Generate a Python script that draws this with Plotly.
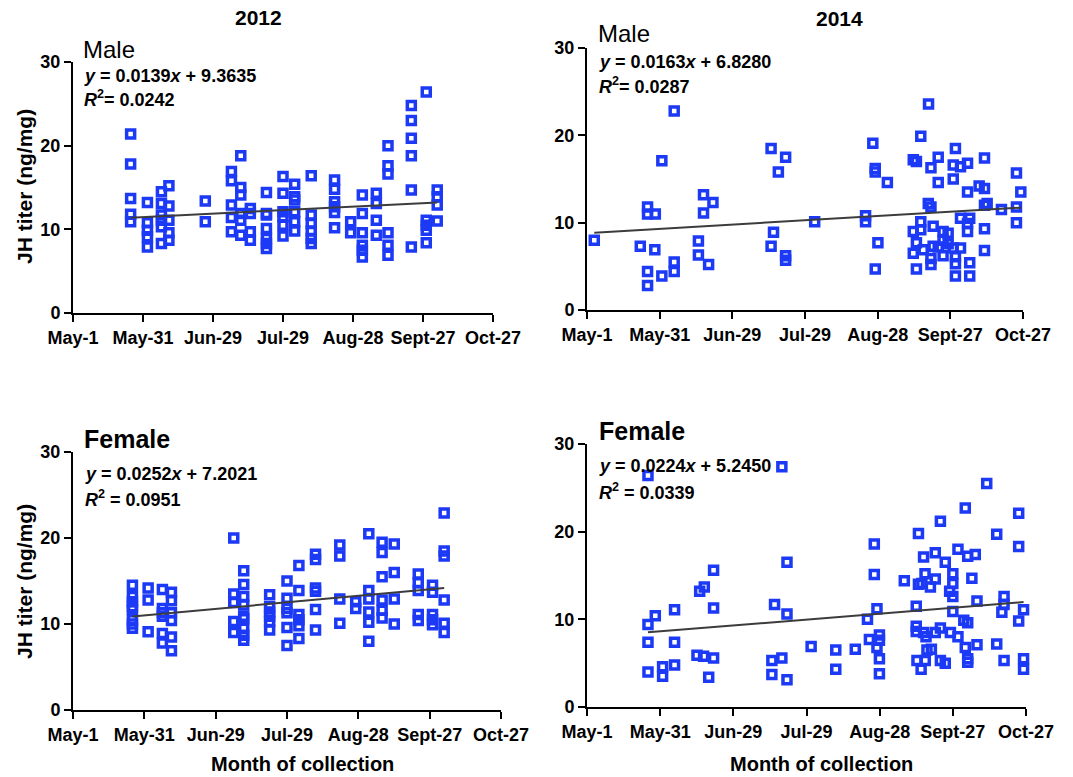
import plotly.graph_objects as go

# ---------------- data (x = day of year, y = JH titer ng/mg) ----------------
m12_x = [145.7]*5 + [152.9]*5 + [158.9]*6 + [162.1]*5 + [177.7]*2 + [188.9]*5 + [192.9]*6 + [197.0]*4 \
    + [203.9]*7 + [211.0]*6 + [216.0]*6 + [223.1]*6 + [233.1]*6 + [240.0]*2 + [245.0]*6 + [251.0]*4 \
    + [256.0]*6 + [266.0]*6 + [272.4]*5 + [277.1]*4
m12_y = [21.4, 17.8, 13.7, 11.8, 10.9,
         13.2, 10.8, 9.9, 9.1, 7.9,
         14.5, 13.1, 11.7, 11.1, 10.3, 8.3,
         15.2, 12.8, 11.1, 9.6, 8.7,
         13.4, 10.9,
         16.9, 15.8, 12.9, 11.4, 9.7,
         18.8, 15.0, 14.1, 11.9, 11.1, 9.3,
         12.5, 11.9, 9.7, 8.7,
         14.4, 11.9, 11.7, 10.1, 8.9, 8.3, 7.7,
         16.3, 14.3, 12.1, 11.5, 10.5, 9.2,
         15.4, 13.9, 13.5, 12.1, 10.9, 9.8,
         16.4, 11.7, 10.7, 9.8, 8.9, 8.3,
         15.9, 14.8, 13.3, 12.7, 12.0, 10.2,
         10.9, 9.6,
         14.1, 11.9, 9.6, 8.1, 7.5, 6.7,
         14.3, 13.1, 11.1, 9.3,
         20.0, 17.6, 16.6, 9.6, 8.1, 6.9,
         24.8, 23.0, 20.9, 18.8, 14.7, 7.9,
         26.4, 11.1, 10.5, 9.9, 8.4,
         14.7, 13.9, 12.9, 11.0]

m14_x = [124.0, 143.0, 146.0, 146.0, 149.2, 149.0, 146.0, 146.0, 151.9, 151.9, 157.0, 157.0, 157.0,
         169.1, 173.0, 169.1, 167.0, 167.0, 171.2,
         197.0, 203.0, 200.0, 198.0, 197.0, 203.0, 203.0, 215.0,
         236.0, 236.0, 239.0, 240.0, 240.0, 245.0, 241.1, 240.0,
         262.0, 258.8, 255.7, 257.0, 263.0, 266.0, 273.1, 272.2, 275.2, 278.1, 285.1,
         266.0, 272.2, 278.1, 282.9, 285.1, 261.9, 263.0, 285.1, 286.2, 292.1,
         298.3, 300.1, 298.3, 298.3, 275.2, 279.0, 278.1, 278.1, 285.1, 285.1,
         258.8, 258.8, 263.9, 255.7, 268.0, 270.1, 257.0, 268.0, 270.1,
         255.7, 259.8, 263.9, 266.0, 272.2, 275.2, 263.0, 263.0, 268.0, 273.1, 273.1,
         279.0, 257.0, 273.1, 279.0]
m14_y = [8.0, 7.3, 11.8, 11.0, 11.0, 6.9, 4.4, 2.8, 17.1, 3.9, 22.8, 5.5, 4.4,
         13.2, 12.3, 11.1, 7.9, 6.3, 5.2,
         18.5, 17.5, 15.8, 8.9, 7.3, 6.2, 5.7, 10.1,
         10.8, 10.1, 19.1, 16.2, 15.8, 14.6, 7.7, 4.7,
         23.6, 19.9, 17.2, 17.0, 16.3, 17.5, 18.5, 16.6, 16.4, 16.8, 17.4,
         14.6, 15.0, 13.5, 14.2, 13.9, 12.2, 11.8, 12.0, 12.2, 11.5,
         15.7, 13.5, 11.8, 10.0, 10.5, 10.5, 9.9, 9.0, 9.3, 6.8,
         10.1, 9.2, 9.6, 9.0, 9.0, 8.8, 7.7, 8.0, 7.6,
         6.5, 6.9, 7.3, 7.2, 7.1, 7.1, 5.9, 5.2, 6.2, 6.1, 5.3,
         5.4, 4.7, 3.9, 3.9]

f12_x = [146.0]*8 + [152.6]*3 + [158.6]*6 + [162.4]*6 + [188.6]*5 + [192.8]*9 + [203.7]*6 + [211.0]*6 \
    + [216.0]*6 + [223.0]*6 + [233.2]*4 + [239.9]*2 + [245.4]*6 + [251.0]*6 + [256.1]*4 + [266.2]*5 \
    + [272.2]*5 + [277.1]*6
f12_y = [14.5, 13.2, 12.6, 12.0, 11.7, 10.5, 10.0, 9.5,
         14.2, 12.8, 9.1,
         14.0, 11.8, 11.3, 10.9, 8.9, 7.8,
         13.7, 12.7, 11.3, 10.4, 8.5, 6.9,
         20.0, 13.5, 12.5, 10.3, 9.0,
         16.2, 14.6, 13.2, 12.2, 10.9, 10.6, 9.5, 8.7, 8.1,
         13.4, 12.0, 11.4, 10.9, 10.3, 9.3,
         15.0, 13.0, 11.8, 11.3, 9.6, 7.5,
         16.8, 13.9, 11.1, 10.5, 9.8, 8.3,
         18.1, 17.5, 14.2, 13.8, 11.7, 9.3,
         19.2, 17.9, 12.9, 10.1,
         12.6, 11.8,
         20.5, 13.9, 12.9, 11.4, 10.2, 8.0,
         19.5, 18.3, 15.5, 12.8, 11.6, 10.7,
         19.3, 16.0, 12.9, 10.0,
         15.8, 14.8, 13.9, 11.1, 10.4,
         14.5, 13.7, 11.1, 10.5, 9.9,
         22.9, 18.5, 17.9, 12.8, 10.1, 9.0]

f14_x = [146.0, 200.9, 146.0, 149.0, 146.0, 146.0, 152.0, 152.0, 156.9, 156.9, 156.9,
         167.2, 169.1, 172.9, 172.9, 166.1, 168.8, 172.9, 170.9,
         197.9, 203.0, 203.0, 196.8, 200.9, 196.8, 203.0, 212.9, 223.0, 223.0, 231.0,
         238.8, 238.8, 239.9, 236.0, 236.8, 240.9, 240.9, 239.9, 240.9, 240.9,
         256.9, 259.0, 251.1, 256.9, 258.3, 259.6, 261.8, 263.8, 263.8, 265.9, 267.9,
         271.0, 271.0, 269.7, 271.0, 271.0, 273.1, 276.1, 277.1, 280.2, 278.8, 280.9,
         284.9, 289.0, 292.0, 291.1, 292.0, 298.0, 298.0, 298.0, 300.0, 300.0, 300.0,
         256.0, 256.0, 256.0, 259.0, 260.0, 263.8, 265.9, 270.0, 273.1, 275.5, 277.1,
         276.1, 280.9, 289.0, 260.4, 262.2, 256.3, 259.7, 258.0, 265.9, 267.9,
         277.1, 277.1, 292.0]
f14_y = [26.4, 27.4, 9.4, 10.4, 7.4, 4.0, 4.6, 3.5, 11.1, 7.4, 4.8,
         13.2, 13.7, 15.6, 11.3, 5.9, 5.8, 5.6, 3.4,
         11.7, 10.6, 16.5, 5.3, 5.6, 3.7, 3.1, 6.9, 6.5, 4.3, 6.6,
         18.6, 15.1, 11.2, 10.0, 7.7, 8.2, 7.6, 6.8, 5.5, 3.8,
         19.8, 17.1, 14.4, 14.0, 14.1, 15.2, 13.7, 14.6, 17.6, 21.2, 16.5,
         15.2, 14.1, 13.2, 12.6, 10.9, 18.0, 22.7, 17.2, 17.4, 14.7, 12.1,
         25.5, 19.7, 12.6, 10.8, 11.7, 22.1, 18.3, 9.8, 11.1, 5.5, 4.3,
         11.5, 9.2, 8.6, 8.5, 8.0, 8.5, 9.0, 8.5, 8.0, 9.9, 9.6,
         6.8, 7.1, 7.2, 6.5, 6.6, 5.3, 5.3, 4.3, 5.3, 5.0,
         5.5, 5.1, 5.3]

# regression coefficients (slope, intercept) and R² as printed on the chart
fits = {"m12": (0.0139, 9.3635), "m14": (0.0163, 6.8280), "f12": (0.0252, 7.2021), "f14": (0.0224, 5.2450)}
eq_text = {"m12": ("0.0139", "9.3635", "0.0242"), "m14": ("0.0163", "6.8280", "0.0287"),
           "f12": ("0.0252", "7.2021", "0.0951"), "f14": ("0.0224", "5.2450", "0.0339")}

tick_days = [121, 151, 181, 211, 241, 271, 301]
tick_labels = ["May-1", "May-31", "Jun-29", "Jul-29", "Aug-28", "Sept-27", "Oct-27"]
y_ticks = [0, 10, 20, 30]

# ---------------- layout helpers ----------------
W, H = 1073, 777
def fx(px):
    return px / W
def fy(py):
    return 1 - py / H

BLUE = "rgb(28,58,245)"
LINE = "#3c3c3c"
FONT = "Liberation Sans, Arial, sans-serif"

panels = [
    # key, xs, ys, x-domain px, y-domain px (top, bottom), axis suffix
    ("m12", m12_x, m12_y, (73, 493), (62, 313), ""),
    ("m14", m14_x, m14_y, (587, 1023), (48, 310), "2"),
    ("f12", f12_x, f12_y, (73, 501), (452, 710), "3"),
    ("f14", f14_x, f14_y, (587, 1026), (444, 707), "4"),
]

fig = go.Figure()
layout = dict(width=W, height=H, margin=dict(l=0, r=0, t=0, b=0, autoexpand=False),
              paper_bgcolor="white", plot_bgcolor="white", showlegend=False)

for key, xs, ys, (x0, x1), (yt, yb), s in panels:
    xa, ya = "x" + s, "y" + s
    fig.add_trace(go.Scatter(x=xs, y=ys, mode="markers", xaxis=xa, yaxis=ya, cliponaxis=False,
                             marker=dict(symbol="square-open", size=8, color=BLUE,
                                         line=dict(width=3.5, color=BLUE))))
    m, b = fits[key]
    lx = [min(xs), max(xs)]
    fig.add_trace(go.Scatter(x=lx, y=[m * v + b for v in lx], mode="lines", xaxis=xa, yaxis=ya,
                             line=dict(color=LINE, width=2)))
    layout["xaxis" + s] = dict(domain=[fx(x0), fx(x1)], anchor=ya, range=[121, 301], automargin=False,
                               tickvals=tick_days, ticktext=tick_labels,
                               showline=True, linecolor="black", linewidth=2,
                               ticks="outside", ticklen=7, tickwidth=2, tickcolor="black",
                               showgrid=False, zeroline=False,
                               tickfont=dict(family=FONT, size=18, color="black", weight="bold"))
    layout["yaxis" + s] = dict(domain=[fy(yb), fy(yt)], anchor=xa, range=[0, 30], automargin=False,
                               tickvals=y_ticks, showline=True, linecolor="black", linewidth=2,
                               ticks="outside", ticklen=7, tickwidth=2, tickcolor="black",
                               showgrid=False, zeroline=False,
                               tickfont=dict(family=FONT, size=18, color="black", weight="bold"))

fig.update_layout(**layout)

def txt(text, px, py, size, xanchor="left", weight="bold", angle=0):
    fig.add_annotation(text=text, x=fx(px), y=fy(py), xref="paper", yref="paper",
                       xanchor=xanchor, yanchor="middle", showarrow=False, textangle=angle,
                       font=dict(family=FONT, size=size, color="black", weight=weight))

# titles
txt("2012", 258, 18, 21, xanchor="center")
txt("2014", 839, 19, 21, xanchor="center")
# sex labels
txt("Male", 81, 49, 24, weight="normal")
txt("Male", 596, 34, 24, weight="normal")
txt("Female", 82, 439, 25)
txt("Female", 597, 431, 25)

# equations
eq_pos = {"m12": (82, 76, 98), "m14": (597, 62, 86), "f12": (83, 474, 498), "f14": (597, 466, 491)}
for key, (ex, ey1, ey2) in eq_pos.items():
    sl, ic, r2 = eq_text[key]
    txt(f"<i>y</i> = {sl}<i>x</i> + {ic}", ex, ey1, 18)
    sep = "= " if key.startswith("m") else " = "
    txt(f"<i>R</i><sup>2</sup>{sep}{r2}", ex, ey2, 18)

# axis titles
txt("JH titer (ng/mg)", 24, 187, 21, xanchor="center", angle=-90)
txt("JH titer (ng/mg)", 24, 582, 21, xanchor="center", angle=-90)
txt("Month of collection", 302, 764, 20, xanchor="center")
txt("Month of collection", 821, 764, 20, xanchor="center")

fig.write_html("out.html")
